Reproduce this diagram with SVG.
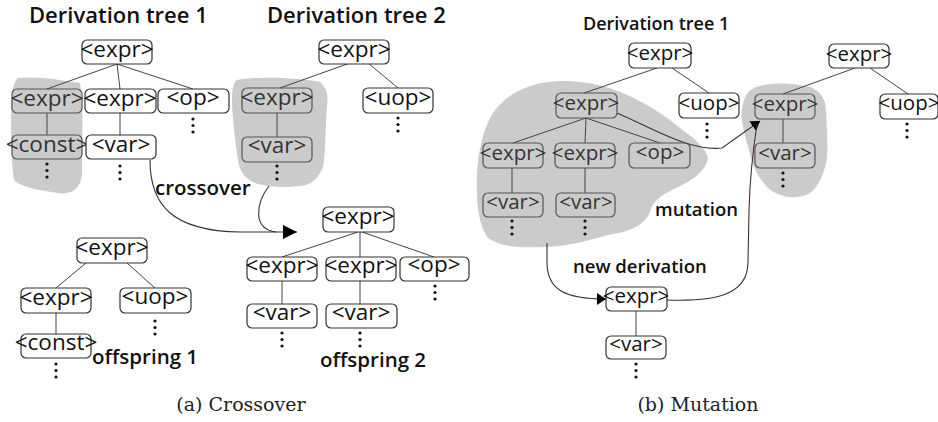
<svg xmlns="http://www.w3.org/2000/svg" width="938" height="422" viewBox="0 0 938 422">
<style>
.bg{fill:#ffffff}
.blob{fill:#cbcbcb;stroke:none}
.n rect{fill:#ffffff;stroke:#333;stroke-width:1.2}
.g rect{fill:none;stroke:#555;stroke-width:1.2}
.n text,.g text{font-family:"Open Sans","Noto Sans",sans-serif;text-anchor:middle;fill:#111}
.g text{fill:#333}
.L text{font-size:22.5px}
.R text{font-size:20.5px}
.e{stroke:#444;stroke-width:1;fill:none}
.br{stroke:#4a2d2d;stroke-width:1.1;fill:none}
.dk{stroke:#333;stroke-width:1.1;fill:none}
.dot{fill:#111}
.lbl{font-family:"Open Sans","Noto Sans",sans-serif;font-weight:600;fill:#111}
.cap{font-family:"DejaVu Serif","Liberation Serif",serif;font-size:19px;fill:#222}
</style>
<defs>
<marker id="abig" markerUnits="userSpaceOnUse" markerWidth="16" markerHeight="16" refX="14" refY="7" orient="auto"><path d="M0,0 L14,7 L0,14 Z" fill="#000"/></marker>
<marker id="asm" markerUnits="userSpaceOnUse" markerWidth="12" markerHeight="14" refX="9" refY="6" orient="auto"><path d="M0,0 L9,6 L0,12 Z" fill="#000"/></marker>
<g id="dots"><circle cx="0" cy="0" r="1.6"/><circle cx="0" cy="6.5" r="1.6"/><circle cx="0" cy="13" r="1.6"/></g>
</defs>
<rect class="bg" x="0" y="0" width="938" height="422"/>

<!-- blobs -->
<g id="blobs">
<path class="blob" d="M18,78 C38,76 60,80 80,83 C84,110 82,150 82,175 C80,190 70,195 58,193 C40,190 22,188 14,180 C10,150 11,110 12,95 C13,86 15,80 18,78 Z"/>
<path class="blob" d="M237,80 C260,76 300,78 320,82 C328,90 328,96 327,105 C325,130 326,150 323,167 C318,180 310,185 300,186 C285,188 270,187 258,184 C245,180 240,172 238,160 C235,140 232,115 232,100 C232,90 233,83 237,80 Z"/>
<path class="blob" d="M525,88 C545,80 570,78 603,86 C630,94 655,108 675,124 C690,136 705,145 708,158 C706,172 690,182 672,190 C660,196 652,202 650,212 C646,224 630,232 612,234 C590,240 570,246 545,247 C520,248 500,247 488,238 C478,225 476,200 477,175 C478,150 484,125 495,110 C505,98 515,92 525,88 Z"/>
<path class="blob" d="M752,89 C765,82 790,82 810,87 C822,92 826,100 826,112 C827,130 828,145 827,158 C824,175 818,190 806,195 C795,199 780,198 768,188 C758,178 752,165 749,150 C745,135 740,120 742,108 C744,98 747,92 752,89 Z"/>
</g>

<!-- connectors -->
<g id="connectors">
<path class="e" d="M117,64 L47,89 M117,64 L120,89 M117,64 L193,89 M47,113 L47,135 M120,113 L120,135"/>
<path class="e" d="M350,63 L280,88 M368,63 L398,88 M277,113 L277,137"/>
<path class="e" d="M86,263 L56,288 M127,263 L155,288 M56,313 L56,334"/>
<path class="e" d="M358,232 L282,257 M360,232 L360,257 M362,232 L434,257 M282,281 L282,304 M360,281 L360,304"/>
<path class="dk" d="M150,160 C150,205 172,231 240,232 L297,232" marker-end="url(#abig)"/>
<path class="dk" d="M269,186 C256,203 252,229 276,232"/>
<path class="e" d="M657,68 L584,93 M672,68 L709,93 M586,118 L513,143 M586,118 L585,143 M586,118 L660,143 M512,168 L512,193 M585,168 L585,193"/>
<path class="e" d="M855,68 L783,94 M870,68 L908,94 M783,119 L783,143 M636,311 L636,336"/>
<path class="br" d="M617,113 C650,127 690,152 722,148 L760,121" marker-end="url(#asm)"/>
<path class="br" d="M667,300 C722,302 748,292 748,262 L749,210 C750,175 753,150 757,124"/>
<path class="dk" d="M547,243 L547,262 C547,290 565,299 606,299" marker-end="url(#asm)"/>
</g>

<g id="ellipses" class="dot">
<use href="#dots" x="193" y="119"/>
<use href="#dots" x="47" y="164"/>
<use href="#dots" x="120" y="166"/>
<use href="#dots" x="398" y="118"/>
<use href="#dots" x="277" y="166"/>
<use href="#dots" x="155" y="321"/>
<use href="#dots" x="56" y="364"/>
<use href="#dots" x="435" y="286"/>
<use href="#dots" x="282" y="333"/>
<use href="#dots" x="360" y="333"/>
<use href="#dots" x="707" y="124"/>
<use href="#dots" x="512" y="221"/>
<use href="#dots" x="585" y="221"/>
<use href="#dots" x="907" y="124"/>
<use href="#dots" x="783" y="173"/>
<use href="#dots" x="636" y="364"/>
</g>

<g class="L">
<g id="t1-root" class="n"><rect x="82" y="40" width="70" height="24" rx="5"/><text x="117" y="57">&lt;expr&gt;</text></g>
<g id="t1-expr-a" class="g"><rect x="12" y="89" width="70" height="24" rx="5"/><text x="47" y="106">&lt;expr&gt;</text></g>
<g id="t1-expr-b" class="n"><rect x="85" y="89" width="71" height="24" rx="5"/><text x="120" y="106">&lt;expr&gt;</text></g>
<g id="t1-op" class="n"><rect x="158" y="89" width="71" height="24" rx="5"/><text x="193" y="105">&lt;op&gt;</text></g>
<g id="t1-const" class="g"><rect x="12" y="135" width="70" height="24" rx="5"/><text x="47" y="152">&lt;const&gt;</text></g>
<g id="t1-var" class="n"><rect x="86" y="135" width="70" height="24" rx="5"/><text x="121" y="152">&lt;var&gt;</text></g>

<g id="t2-root" class="n"><rect x="319" y="40" width="70" height="24" rx="5"/><text x="354" y="57">&lt;expr&gt;</text></g>
<g id="t2-expr" class="g"><rect x="242" y="88" width="70" height="25" rx="5"/><text x="277" y="105">&lt;expr&gt;</text></g>
<g id="t2-uop" class="n"><rect x="363" y="88" width="70" height="25" rx="5"/><text x="398" y="105">&lt;uop&gt;</text></g>
<g id="t2-var" class="g"><rect x="242" y="137" width="70" height="25" rx="5"/><text x="277" y="153">&lt;var&gt;</text></g>

<g id="o1-root" class="n"><rect x="77" y="238" width="70" height="25" rx="5"/><text x="112" y="255">&lt;expr&gt;</text></g>
<g id="o1-expr" class="n"><rect x="21" y="288" width="70" height="25" rx="5"/><text x="56" y="305">&lt;expr&gt;</text></g>
<g id="o1-uop" class="n"><rect x="120" y="288" width="71" height="25" rx="5"/><text x="155" y="304">&lt;uop&gt;</text></g>
<g id="o1-const" class="n"><rect x="21" y="334" width="70" height="24" rx="5"/><text x="56" y="350">&lt;const&gt;</text></g>

<g id="o2-root" class="n"><rect x="323" y="207" width="71" height="25" rx="5"/><text x="358" y="224">&lt;expr&gt;</text></g>
<g id="o2-expr-a" class="n"><rect x="247" y="257" width="70" height="24" rx="5"/><text x="282" y="273">&lt;expr&gt;</text></g>
<g id="o2-expr-b" class="n"><rect x="326" y="257" width="70" height="24" rx="5"/><text x="361" y="273">&lt;expr&gt;</text></g>
<g id="o2-op" class="n"><rect x="400" y="257" width="69" height="24" rx="5"/><text x="434" y="272">&lt;op&gt;</text></g>
<g id="o2-var-a" class="n"><rect x="247" y="304" width="70" height="24" rx="5"/><text x="282" y="320">&lt;var&gt;</text></g>
<g id="o2-var-b" class="n"><rect x="326" y="304" width="71" height="24" rx="5"/><text x="361" y="320">&lt;var&gt;</text></g>
</g>

<g class="R">
<g id="m-root" class="n"><rect x="629" y="43" width="62" height="25" rx="5"/><text x="660" y="60">&lt;expr&gt;</text></g>
<g id="m-expr" class="g"><rect x="556" y="93" width="61" height="25" rx="5"/><text x="586" y="110">&lt;expr&gt;</text></g>
<g id="m-uop" class="n"><rect x="679" y="93" width="60" height="25" rx="5"/><text x="709" y="110">&lt;uop&gt;</text></g>
<g id="m-expr-a" class="g"><rect x="483" y="143" width="60" height="25" rx="5"/><text x="513" y="160">&lt;expr&gt;</text></g>
<g id="m-expr-b" class="g"><rect x="555" y="143" width="60" height="25" rx="5"/><text x="585" y="160">&lt;expr&gt;</text></g>
<g id="m-op" class="g"><rect x="629" y="143" width="61" height="25" rx="5"/><text x="660" y="159">&lt;op&gt;</text></g>
<g id="m-var-a" class="g"><rect x="483" y="193" width="60" height="24" rx="5"/><text x="513" y="209">&lt;var&gt;</text></g>
<g id="m-var-b" class="g"><rect x="556" y="193" width="59" height="24" rx="5"/><text x="586" y="209">&lt;var&gt;</text></g>

<g id="r-root" class="n"><rect x="829" y="44" width="60" height="24" rx="5"/><text x="859" y="61">&lt;expr&gt;</text></g>
<g id="r-expr" class="g"><rect x="755" y="94" width="60" height="25" rx="5"/><text x="785" y="111">&lt;expr&gt;</text></g>
<g id="r-uop" class="n"><rect x="880" y="94" width="58" height="25" rx="5"/><text x="909" y="110">&lt;uop&gt;</text></g>
<g id="r-var" class="g"><rect x="755" y="143" width="60" height="25" rx="5"/><text x="785" y="160">&lt;var&gt;</text></g>

<g id="n-expr" class="n"><rect x="606" y="287" width="61" height="24" rx="5"/><text x="636" y="303">&lt;expr&gt;</text></g>
<g id="n-var" class="n"><rect x="606" y="336" width="60" height="23" rx="5"/><text x="636" y="351">&lt;var&gt;</text></g>
</g>

<g id="labels">
<text class="lbl" x="29" y="23" font-size="22">Derivation tree 1</text>
<text class="lbl" x="267" y="23" font-size="22">Derivation tree 2</text>
<text class="lbl" x="155" y="195" font-size="20.5">crossover</text>
<text class="lbl" x="92" y="364" font-size="20.5">offspring 1</text>
<text class="lbl" x="320" y="367" font-size="20.5">offspring 2</text>
<text class="lbl" x="583" y="30" font-size="18">Derivation tree 1</text>
<text class="lbl" x="655" y="216" font-size="18.5" fill="#2b1a1a">mutation</text>
<text class="lbl" x="573" y="273" font-size="18.5" fill="#2b1a1a">new derivation</text>
<text class="cap" x="241" y="411" text-anchor="middle">(a) Crossover</text>
<text class="cap" x="698" y="411" text-anchor="middle">(b) Mutation</text>
</g>
</svg>
